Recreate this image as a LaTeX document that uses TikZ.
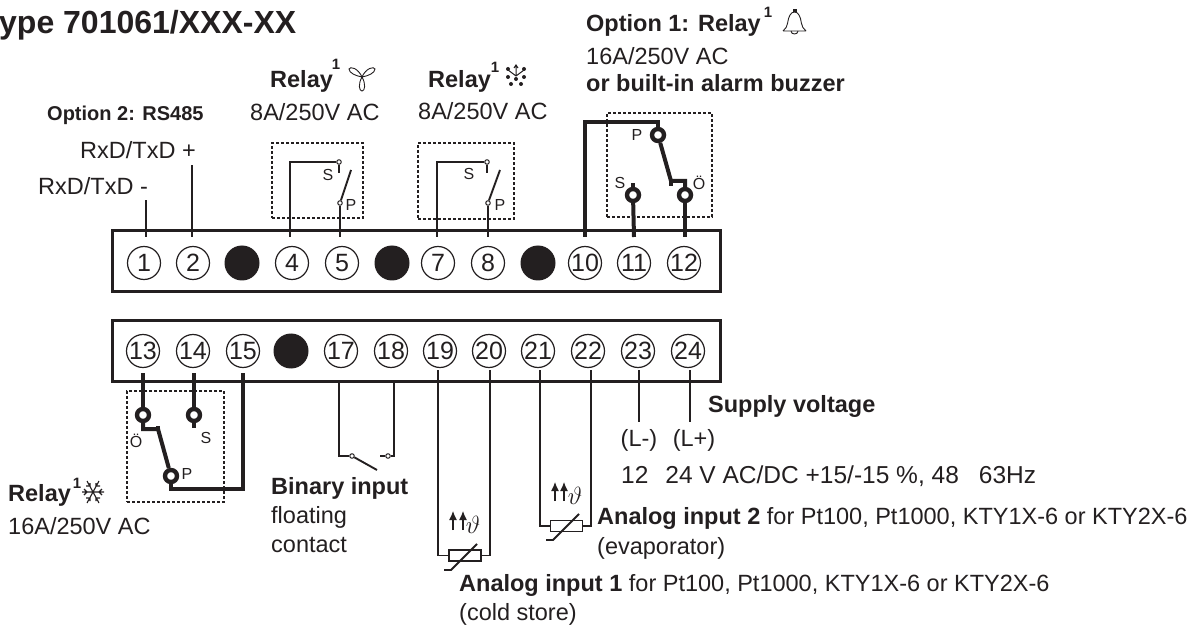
\documentclass[tikz,border=0pt]{standalone}
\usepackage{fontspec}
\setmainfont{Liberation Sans}
\usetikzlibrary{positioning,arrows.meta}
\definecolor{ink}{RGB}{35,31,32}
\begin{document}
\begin{tikzpicture}[x=1pt,y=-1pt,color=ink,text=ink,on grid,
termnode/.style={circle, draw=ink, line width=1.2pt, minimum size=33pt, inner sep=0pt, font=\fontsize{25}{25}\selectfont},
blindnode/.style={circle, fill=ink, minimum size=35pt, inner sep=0pt},
stripnode/.style={rectangle, draw=ink, line width=3pt, inner sep=0pt, minimum width=608pt, minimum height=61pt},
relaybox/.style={rectangle, draw=ink, densely dashed, line width=1.1pt, inner sep=0pt},
bigcontact/.style={circle, draw=ink, fill=white, line width=4.4pt, minimum size=12pt, inner sep=0pt},
smallcontact/.style={circle, draw=ink, fill=white, line width=1pt, minimum size=4.5pt, inner sep=0pt},
sensornode/.style={rectangle, draw=ink, fill=white, line width=1.8pt, minimum width=32pt, minimum height=11pt, inner sep=0pt},
txt/.style={anchor=west, inner sep=0pt, font=\fontsize{23.5}{23.5}\selectfont},
btxt/.style={txt, font=\fontsize{23.5}{23.5}\selectfont\bfseries},
pin/.style={inner sep=0pt, font=\fontsize{16}{16}\selectfont},
sup1/.style={inner sep=0pt, font=\fontsize{15}{15}\selectfont\bfseries},
wire/.style={line width=1.9pt},
hot/.style={line width=4pt},
upar/.style={line width=1.2pt, -{Latex[length=9pt,width=8pt]}},
]
\useasboundingbox (0,0) rectangle (1197,628);
\node[anchor=west, inner sep=0pt, font=\fontsize{32}{32}\selectfont\bfseries] (title) at (-1,25) {ype 701061/XXX-XX};
%%% terminals
\node[stripnode] (top) at (416,261.5) {};
\node[stripnode] (bot) at (416,351) {};
\node[termnode] (1) at (144,263) {1};
\node[termnode] (2) [right=49pt of 1] {2};
\node[blindnode] (3) [right=49pt of 2] {};
\node[termnode] (4) [right=50pt of 3] {4};
\node[termnode] (5) [right=50pt of 4] {5};
\node[blindnode] (6) [right=50pt of 5] {};
\node[termnode] (7) [right=46pt of 6] {7};
\node[termnode] (8) [right=50pt of 7] {8};
\node[blindnode] (9) [right=50pt of 8] {};
\node[termnode] (10) [right=47pt of 9] {10};
\node[termnode] (11) [right=49pt of 10] {11};
\node[termnode] (12) [right=50pt of 11] {12};
\node[termnode] (13) at (143,351) {13};
\node[termnode] (14) [right=50pt of 13] {14};
\node[termnode] (15) [right=50pt of 14] {15};
\node[blindnode] (16) [right=48pt of 15] {};
\node[termnode] (17) [right=50pt of 16] {17};
\node[termnode] (18) [right=50pt of 17] {18};
\node[termnode] (19) [right=49pt of 18] {19};
\node[termnode] (20) [right=49pt of 19] {20};
\node[termnode] (21) [right=49pt of 20] {21};
\node[termnode] (22) [right=50pt of 21] {22};
\node[termnode] (23) [right=50pt of 22] {23};
\node[termnode] (24) [right=50pt of 23] {24};
%%% relay frames
\node[relaybox, minimum width=91pt, minimum height=75pt] (frameA) at (317.5,180.5) {};
\node[relaybox, minimum width=96pt, minimum height=76pt] (frameB) at (466,181) {};
\node[relaybox, minimum width=105pt, minimum height=104pt] (frameC) at (659.5,165) {};
\node[relaybox, minimum width=97pt, minimum height=111pt] (frameD) at (175.5,446.5) {};
%%% RS485
\coordinate (w1) at (146,237);
\coordinate (w2) at (192,237);
\coordinate (e1) at (146,200);
\coordinate (e2) at (192,165);
\draw[wire] (w1) -- (e1);
\draw[wire] (w2) -- (e2);
\node[btxt, font=\fontsize{20}{20}\selectfont\bfseries] (opt2) at (47,115) {Option 2: RS485};
\node[txt] (rx2) at (80,150) {RxD/TxD +};
\node[txt] (rx1) at (38,186) {RxD/TxD -};
%%% relay fan
\node[smallcontact] (sA) at (339,162) {};
\node[smallcontact] (pA) at (340,203) {};
\coordinate (w4) at (290,237);
\coordinate (w5) at (340,237);
\draw[wire] (w4) |- (sA);
\draw[wire] (w5) -- (pA);
\draw[wire] (sA) -- ++(0,11);
\draw[wire] (pA) -- (351,170);
\node[pin] (lblSA) at (328,175) {S};
\node[pin] (lblPA) at (351,205) {P};
\node[btxt] (relA) at (270,81) {Relay};
\node[sup1] at (336,64) {1};
\node[txt] (ratA) at (250,112) {8A/250V AC};
\draw[line width=.9pt] (362,77) .. controls (358,68) and (350,66) .. (349,69) .. controls (349,73) and (356,76) .. (362,77)
  .. controls (366,68) and (374,66) .. (375,69) .. controls (375,73) and (368,76) .. (362,77)
  .. controls (358,84) and (359,91) .. (362,91) .. controls (365,91) and (366,84) .. (362,77);
%%% relay snow
\node[smallcontact] (sB) at (487,162) {};
\node[smallcontact] (pB) at (488,203) {};
\coordinate (w7) at (437,237);
\coordinate (w8) at (488,237);
\draw[wire] (w7) |- (sB);
\draw[wire] (w8) -- (pB);
\draw[wire] (sB) -- ++(0,11);
\draw[wire] (pB) -- (500,170);
\node[pin] (lblSB) at (469,174) {S};
\node[pin] (lblPB) at (500,205) {P};
\node[btxt] (relB) at (428,81) {Relay};
\node[sup1] at (495,67) {1};
\node[txt] (ratB) at (418,111) {8A/250V AC};
\draw[line width=1pt] (516,76) -- (516,65) (514,68) -- (516,65) -- (518,68) (516,76) -- (508,70) (516,76) -- (524,70);
\fill (508,69) circle (2pt) (524,69) circle (2pt) (516,79) circle (2pt) (511,84) circle (2pt) (521,84) circle (2pt) (508,77) circle (2pt) (524,77) circle (2pt);
%%% option 1
\node[bigcontact] (pC) at (658,135) {};
\node[bigcontact] (sC) at (633,195) {};
\node[bigcontact] (oC) at (685,195) {};
\coordinate (w10) at (585,237);
\coordinate (w11) at (634,237);
\coordinate (w12) at (685,237);
\draw[hot] (w10) -- (585,122) -- (658,122) -- (pC);
\draw[hot] (w11) -- (sC);
\draw[hot] (w12) -- (oC);
\draw[hot] (sC) -- ++(0,-12);
\draw[hot] (oC) -- (685,181) -- (671,181) -- (pC);
\draw[hot] (671,181) -- (671,186);
\node[pin] (lblPC) at (637,135) {P};
\node[pin] (lblSC) at (620,183) {S};
\node[pin] (lblOC) at (699,183) {Ö};
\node[btxt] (opt1) at (586,25) {Option 1: Relay};
\node[sup1] at (768,12) {1};
\node[txt] (ratC) [below=31pt of opt1.west, anchor=west] {16A/250V AC};
\node[btxt] (buzz) [below=27pt of ratC.west, anchor=west] {or built-in alarm buzzer};
\draw[line width=.9pt] (783,31) -- (806,31) (783,31) .. controls (789,27) and (787,19) .. (790,15) .. controls (792,11) and (797,11) .. (799,15) .. controls (802,19) and (800,27) .. (806,31);
\draw[line width=.9pt] (791,31) .. controls (791,35) and (798,35) .. (798,31);
\fill (792.5,9) rectangle (796.5,12);
%%% relay defrost
\node[bigcontact] (oD) at (143,415) {};
\node[bigcontact] (sD) at (194,415) {};
\node[bigcontact] (pD) at (171,476) {};
\coordinate (w13) at (143,373);
\coordinate (w14) at (194,373);
\coordinate (w15) at (243,373);
\draw[hot] (w13) -- (oD);
\draw[hot] (w14) -- (sD);
\draw[hot] (sD) -- ++(0,13);
\draw[hot] (w15) -- (243,489) -- (171,489) -- (pD);
\draw[hot] (oD) -- (143,429) -- (158,429) -- (pD);
\draw[hot] (158,429) -- (158,426);
\node[pin] (lblOD) at (136,441) {Ö};
\node[pin] (lblSD) at (206,438) {S};
\node[pin] (lblPD) at (187,474) {P};
\node[btxt] (relD) at (8,495) {Relay};
\node[sup1] at (77,483) {1};
\node[txt] (ratD) [below=31pt of relD.west, anchor=west] {16A/250V AC};
\draw[line width=1.1pt] (82,492) -- (104,492) (87,481) -- (99,503) (99,481) -- (87,503)
 (84,489) -- (87,492) -- (84,495) (102,489) -- (99,492) -- (102,495)
 (90,483) -- (90,486) -- (86,486) (96,483) -- (96,486) -- (100,486) (90,501) -- (90,498) -- (86,498) (96,501) -- (96,498) -- (100,498);
%%% binary input
\node[smallcontact] (bl) at (352,456) {};
\node[smallcontact] (br) at (388,456) {};
\coordinate (w17) at (339,381);
\coordinate (w18) at (394,381);
\draw[wire] (w17) |- (bl);
\draw[wire] (w18) |- (br);
\draw[wire] (br) -- ++(-8,0);
\draw[wire] (bl) -- (377,470);
\node[btxt] (bin) at (271,488) {Binary input};
\node[txt] (bin2) [below=29pt of bin.west, anchor=west] {floating};
\node[txt] (bin3) [below=28pt of bin2.west, anchor=west] {contact};
%%% analog input 1
\node[sensornode] (rA) at (465,555.5) {};
\coordinate (w19) at (438,370);
\coordinate (w20) at (490,370);
\draw[wire] (w19) |- (rA);
\draw[wire] (w20) |- (rA);
\draw[wire] (444,570) -- (451,570) -- (477,544);
\draw[upar] (453,530) -- (453,511);
\draw[upar] (463,530) -- (463,511);
\node[inner sep=0pt, font=\fontsize{24}{24}\selectfont] (thA) at (473,525) {$\vartheta$};
\node[btxt] (ai1) at (459,585) {Analog input 1\textmd{ for Pt100, Pt1000, KTY1X-6 or KTY2X-6}};
\node[txt] (ai1b) [below=29pt of ai1.west, anchor=west] {(cold store)};
%%% analog input 2
\node[sensornode] (rB) at (566.5,526) {};
\coordinate (w21) at (540,370);
\coordinate (w22) at (591,370);
\draw[wire] (w21) |- (rB);
\draw[wire] (w22) |- (rB);
\draw[wire] (546,540) -- (553,540) -- (579,514);
\draw[upar] (555,501) -- (555,482);
\draw[upar] (564,501) -- (564,482);
\node[inner sep=0pt, font=\fontsize{24}{24}\selectfont] (thB) at (575,496) {$\vartheta$};
\node[btxt] (ai2) at (597,518) {Analog input 2\textmd{ for Pt100, Pt1000, KTY1X-6 or KTY2X-6}};
\node[txt] (ai2b) [below=30pt of ai2.west, anchor=west] {(evaporator)};
%%% supply
\coordinate (w23) at (639,370);
\coordinate (w24) at (690,370);
\node[inner sep=0pt, font=\fontsize{23.5}{23.5}\selectfont] (lm) at (639,440) {(L-)};
\node[inner sep=0pt, font=\fontsize{23.5}{23.5}\selectfont] (lp) at (694,440) {(L+)};
\draw[wire] (w23) -- (639,422);
\draw[wire] (w24) -- (690,422);
\node[btxt] (sup) at (708,406) {Supply voltage};
\node[txt, font=\fontsize{24.5}{24.5}\selectfont] (volt) at (621,476) {12\hspace{17pt}24 V AC/DC +15/-15 \%, 48\hspace{20pt}63Hz};
\end{tikzpicture}
\end{document}
